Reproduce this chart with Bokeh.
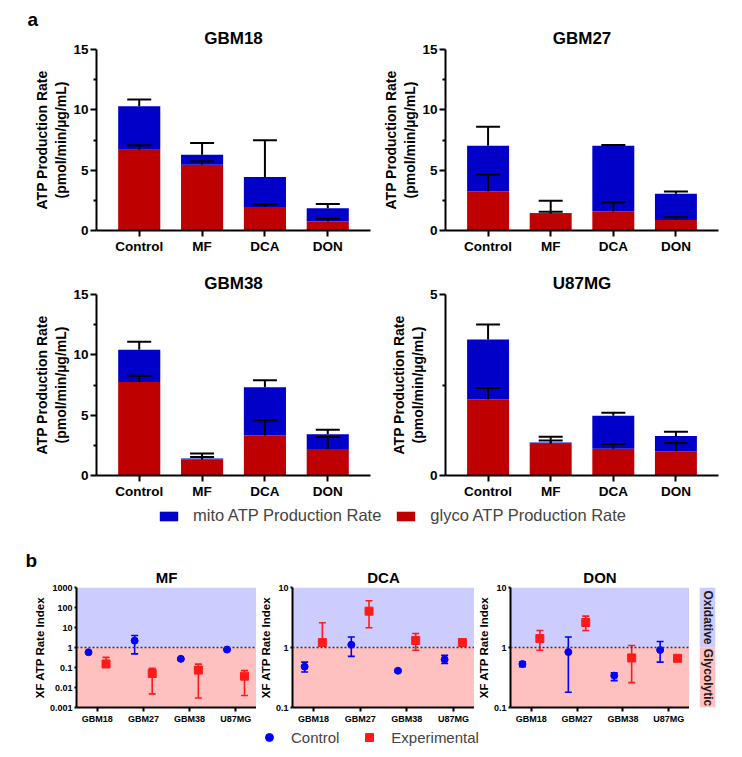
import numpy as np
from bokeh.plotting import figure
from bokeh.models import (FactorRange, Range1d, ColumnDataSource, Whisker, TeeHead, Title,
                          BoxAnnotation, Span, FixedTicker, CustomJSTickFormatter, Legend, LegendItem)
from bokeh.layouts import column, row
from bokeh.transform import dodge
from bokeh.core.properties import value
from bokeh.embed import file_html
from bokeh.resources import INLINE

FONT = "Liberation Sans"
BLUE_BAR = "#0000C8"
RED_BAR = "#BF0000"
OXI = "#CCCCFF"
GLY = "#FFC0C0"
MK_BLUE = "#0000FF"
MK_RED = "#FF1A1A"
M = 8  # page margin

# ---------------- data: panel a ----------------
treatments = ["Control", "MF", "DCA", "DON"]

gbm18_glyco = [6.70, 5.45, 1.94, 0.75]
gbm18_mito = [3.60, 0.83, 2.49, 1.10]
gbm18_glyco_err = [0.36, 0.28, 0.22, 0.22]
gbm18_mito_err = [0.55, 0.97, 3.04, 0.34]

gbm27_glyco = [3.24, 1.38, 1.58, 0.86]
gbm27_mito = [3.79, 0.07, 5.45, 2.18]
gbm27_glyco_err = [1.41, 0.17, 0.77, 0.24]
gbm27_mito_err = [1.57, 1.01, 0.05, 0.20]

gbm38_glyco = [7.75, 1.32, 3.31, 2.20]
gbm38_mito = [2.67, 0.09, 4.00, 1.22]
gbm38_glyco_err = [0.52, 0.22, 1.27, 1.00]
gbm38_mito_err = [0.66, 0.41, 0.58, 0.38]

u87_glyco = [2.10, 0.88, 0.74, 0.67]
u87_mito = [1.66, 0.03, 0.91, 0.42]
u87_glyco_err = [0.32, 0.09, 0.13, 0.23]
u87_mito_err = [0.41, 0.16, 0.08, 0.12]

legend_a = ["mito ATP Production Rate", "glyco ATP Production Rate"]

# ---------------- data: panel b ----------------
cells = ["GBM18", "GBM27", "GBM38", "U87MG"]

mf_ctrl = [0.58, 2.2, 0.27, 0.79]
mf_ctrl_lo = [0.52, 0.48, 0.24, 0.72]
mf_ctrl_hi = [0.64, 4.0, 0.30, 0.87]
mf_exp = [0.15, 0.05, 0.074, 0.037]
mf_exp_lo = [0.12, 0.0048, 0.003, 0.004]
mf_exp_hi = [0.32, 0.09, 0.147, 0.071]

dca_ctrl = [0.48, 1.11, 0.41, 0.63]
dca_ctrl_lo = [0.39, 0.71, 0.39, 0.54]
dca_ctrl_hi = [0.57, 1.5, 0.43, 0.74]
dca_exp = [1.21, 4.03, 1.31, 1.21]
dca_exp_lo = [1.12, 2.13, 0.90, 1.15]
dca_exp_hi = [2.58, 6.0, 1.71, 1.27]

don_ctrl = [0.53, 0.84, 0.34, 0.91]
don_ctrl_lo = [0.48, 0.18, 0.28, 0.57]
don_ctrl_hi = [0.58, 1.5, 0.38, 1.26]
don_exp = [1.41, 2.61, 0.67, 0.66]
don_exp_lo = [0.90, 1.92, 0.26, 0.63]
don_exp_hi = [1.92, 3.33, 1.08, 0.69]

zones = ["Oxidative", "Glycolytic"]
zone_bottom = [1.0, 0.1]
zone_top = [10.0, 1.0]

legend_b = ["Control", "Experimental"]


def base_style(p):
    p.xgrid.grid_line_color = None
    p.ygrid.grid_line_color = None
    p.outline_line_color = None
    p.background_fill_color = "white"
    p.border_fill_color = "white"


def style_axes(p, tick_size, label_size, tick_out, lw):
    for ax in p.axis:
        ax.axis_line_color = "black"
        ax.axis_line_width = lw
        ax.major_tick_line_color = "black"
        ax.major_tick_line_width = lw
        ax.minor_tick_line_color = "black"
        ax.minor_tick_line_width = lw
        ax.major_tick_in = 0
        ax.major_tick_out = tick_out
        ax.minor_tick_in = 0
        ax.major_label_text_font = FONT
        ax.major_label_text_font_style = "bold"
        ax.major_label_text_font_size = tick_size
        ax.major_label_text_color = "black"
        ax.axis_label_text_font = FONT
        ax.axis_label_text_font_style = "bold"
        ax.axis_label_text_font_size = label_size
        ax.axis_label_text_color = "black"


def add_titles(p, title, size, letter=None, letter_offset=0, letter_standoff=0):
    p.add_layout(Title(text=title, align="center", text_font=FONT, text_font_style="bold",
                       text_font_size=size, text_color="black", standoff=3), "above")
    if letter:
        p.add_layout(Title(text=letter, align="left", offset=letter_offset, text_font=FONT,
                           text_font_style="bold", text_font_size="19px", text_color="black",
                           standoff=letter_standoff), "above")


def bar_panel(title, glyco, mito, gerr, merr, ymax, major, minor, width, left, right, top,
              bottom, letter=None):
    total = [g + m for g, m in zip(glyco, mito)]
    src = ColumnDataSource(dict(
        t=treatments, glyco=glyco, mito=mito,
        g_up=[g + e for g, e in zip(glyco, gerr)],
        total=total,
        t_up=[t + e for t, e in zip(total, merr)],
    ))
    frame_h = 181
    p = figure(x_range=FactorRange(factors=treatments, range_padding=0.18,
                                   range_padding_units="absolute"),
               y_range=Range1d(0, ymax), width=width, height=top + frame_h + bottom,
               min_border_left=left, min_border_right=right, min_border_top=top,
               min_border_bottom=bottom, output_backend="svg", toolbar_location=None,
               title=None)
    base_style(p)
    add_titles(p, title, "17px", letter, letter_offset=-69, letter_standoff=-8)
    p.vbar_stack(["glyco", "mito"], x="t", width=0.67, fill_color=[RED_BAR, BLUE_BAR],
                 line_color=None, source=src)
    for lo, up in (("glyco", "g_up"), ("total", "t_up")):
        w = Whisker(base="t", lower=lo, upper=up, source=src, line_color="black", line_width=2,
                    upper_head=TeeHead(size=24, line_color="black", line_width=2),
                    lower_head=None, level="overlay")
        p.add_layout(w)
    p.yaxis.ticker = FixedTicker(ticks=major, minor_ticks=minor)
    p.yaxis.axis_label = "ATP Production Rate\n(pmol/min/µg/mL)"
    style_axes(p, "13.5px", "14px", 6, 2)
    p.yaxis.minor_tick_out = 3
    p.yaxis.major_label_standoff = 2
    p.xaxis.major_label_standoff = 2
    p.yaxis.axis_label_standoff = 1
    return p


def xf_panel(title, ctrl, clo, chi, exp, elo, ehi, ymin, ymax, yticks, width, left, right,
             letter=None):
    top, frame_h, bottom = 58, 120, 20
    p = figure(x_range=FactorRange(factors=cells, range_padding=-0.05,
                                   range_padding_units="absolute"),
               y_range=Range1d(ymin, ymax), y_axis_type="log",
               width=width, height=top + frame_h + bottom,
               min_border_left=left, min_border_right=right, min_border_top=top,
               min_border_bottom=bottom, output_backend="svg", toolbar_location=None,
               title=None)
    base_style(p)
    add_titles(p, title, "15px", letter, letter_offset=-51, letter_standoff=-10)
    p.add_layout(BoxAnnotation(bottom=1, fill_color=OXI, fill_alpha=1, line_color=None,
                               level="underlay"))
    p.add_layout(BoxAnnotation(top=1, fill_color=GLY, fill_alpha=1, line_color=None,
                               level="underlay"))
    p.add_layout(Span(location=1, dimension="width", line_color="#333333", line_width=1.4,
                      line_dash="2 2"))
    src = ColumnDataSource(dict(cell=cells, ctrl=ctrl, clo=clo, chi=chi, exp=exp, elo=elo,
                                ehi=ehi))
    xc = dodge("cell", -0.19, range=p.x_range)
    xe = dodge("cell", 0.19, range=p.x_range)
    for xx, v, lo, hi, col, mk, sz in ((xc, "ctrl", "clo", "chi", MK_BLUE, "circle", 7),
                                      (xe, "exp", "elo", "ehi", MK_RED, "square", 8)):
        p.segment(x0=xx, y0=lo, x1=xx, y1=hi, line_color=col, line_width=1.6, source=src)
        p.scatter(x=xx, y=lo, marker="dash", size=7, line_color=col, line_width=1.6,
                  source=src)
        p.scatter(x=xx, y=hi, marker="dash", size=7, line_color=col, line_width=1.6,
                  source=src)
        p.scatter(x=xx, y=v, marker=mk, size=sz, fill_color=col, line_color=col, source=src)
    p.yaxis.ticker = FixedTicker(ticks=yticks, minor_ticks=[])
    p.yaxis.formatter = CustomJSTickFormatter(code="return tick.toString();")
    p.yaxis.axis_label = "XF ATP Rate Index"
    style_axes(p, "9px", "11.5px", 3, 2)
    p.yaxis.major_tick_out = 2
    p.yaxis.major_label_standoff = 2
    p.yaxis.axis_label_standoff = 1
    p.xaxis.major_tick_out = 4
    p.xaxis.major_label_standoff = 2
    return p


# ---------------- panel a ----------------
p1 = bar_panel("GBM18", gbm18_glyco, gbm18_mito, gbm18_glyco_err, gbm18_mito_err, 15,
               [0, 5, 10, 15], [2.5, 7.5, 12.5], 363 + M, 88 + M, 1, 41 + M, 26, letter="a")
p2 = bar_panel("GBM27", gbm27_glyco, gbm27_mito, gbm27_glyco_err, gbm27_mito_err, 15,
               [0, 5, 10, 15], [2.5, 7.5, 12.5], 352, 74, 5, 41 + M, 26)
p3 = bar_panel("GBM38", gbm38_glyco, gbm38_mito, gbm38_glyco_err, gbm38_mito_err, 15,
               [0, 5, 10, 15], [2.5, 7.5, 12.5], 363 + M, 88 + M, 1, 38, 26)
p4 = bar_panel("U87MG", u87_glyco, u87_mito, u87_glyco_err, u87_mito_err, 5,
               [0, 5], [2.5], 352, 74, 5, 38, 26)

# legend for panel a (swatch renderers with zero-height bars)
leg1 = figure(width=715 + M, height=28, x_range=Range1d(0, 1), y_range=Range1d(0, 1),
              min_border=0, x_axis_location=None, y_axis_location=None,
              output_backend="svg", toolbar_location=None)
base_style(leg1)
sw = ColumnDataSource(dict(x=[0.5], b=[0.0], t=[0.0]))
r_m = leg1.vbar(x="x", bottom="b", top="t", width=0.01, fill_color=BLUE_BAR, line_color=None,
                source=sw)
r_g = leg1.vbar(x="x", bottom="b", top="t", width=0.01, fill_color=RED_BAR, line_color=None,
                source=sw)
lg1 = Legend(items=[LegendItem(label=legend_a[0], renderers=[r_m]),
                    LegendItem(label=legend_a[1], renderers=[r_g])],
             orientation="horizontal", location=(149 + M, 4), glyph_width=23, glyph_height=12,
             label_text_font=FONT, label_text_font_size="16.5px", label_standoff=13,
             spacing=13, padding=0, margin=0, border_line_color=None,
             background_fill_alpha=0)
leg1.add_layout(lg1)

# ---------------- panel b ----------------
q1 = xf_panel("MF", mf_ctrl, mf_ctrl_lo, mf_ctrl_hi, mf_exp, mf_exp_lo, mf_exp_hi,
              0.001, 1000, [0.001, 0.01, 0.1, 1, 10, 100, 1000], 248 + M, 68 + M, 0,
              letter="b")
q2 = xf_panel("DCA", dca_ctrl, dca_ctrl_lo, dca_ctrl_hi, dca_exp, dca_exp_lo, dca_exp_hi,
              0.1, 10, [0.1, 1, 10], 218, 36, 0)
q3 = xf_panel("DON", don_ctrl, don_ctrl_lo, don_ctrl_hi, don_exp, don_exp_lo, don_exp_hi,
              0.1, 10, [0.1, 1, 10], 215, 35, 0)

side = figure(width=30, height=198, x_range=Range1d(0, 1), y_range=Range1d(0.1, 10),
              y_axis_type="log", min_border_left=10, min_border_right=4, min_border_top=58,
              min_border_bottom=20, x_axis_location=None, y_axis_location=None,
              output_backend="svg", toolbar_location=None)
base_style(side)
zsrc = ColumnDataSource(dict(label=zones, bottom=zone_bottom, top=zone_top,
                             mid=[float(np.sqrt(b * t)) for b, t in zip(zone_bottom, zone_top)],
                             color=[OXI, GLY]))
side.quad(left=0, right=1, bottom="bottom", top="top", fill_color="color", line_color=None,
          source=zsrc)
side.text(x=0.5, y="mid", text="label", angle=-np.pi / 2, text_align="center",
          text_baseline="middle", text_font=value(FONT), text_font_style="bold",
          text_font_size="12px", text_color="#1a1a1a", source=zsrc)

leg2 = figure(width=711 + M, height=20, x_range=Range1d(0, 1), y_range=Range1d(0, 1),
              min_border=0, x_axis_location=None, y_axis_location=None,
              output_backend="svg", toolbar_location=None)
base_style(leg2)
sw2 = ColumnDataSource(dict(x=[0.5], y=[5.0]))  # outside view: legend swatches only
r_c = leg2.scatter(x="x", y="y", marker="circle", size=8, fill_color=MK_BLUE,
                   line_color=MK_BLUE, source=sw2)
r_e = leg2.scatter(x="x", y="y", marker="square", size=8, fill_color=MK_RED,
                   line_color=MK_RED, source=sw2)
lg2 = Legend(items=[LegendItem(label=legend_b[0], renderers=[r_c]),
                    LegendItem(label=legend_b[1], renderers=[r_e])],
             orientation="horizontal", location=(251 + M, 0), glyph_width=20, glyph_height=20,
             label_text_font=FONT, label_text_font_size="15px", label_standoff=12,
             spacing=20, padding=0, margin=0, border_line_color=None,
             background_fill_alpha=0)
leg2.add_layout(lg2)

layout = column(row(p1, p2), row(p3, p4), leg1, row(q1, q2, q3, side), leg2)

open("out.html", "w").write(file_html(layout, INLINE))
